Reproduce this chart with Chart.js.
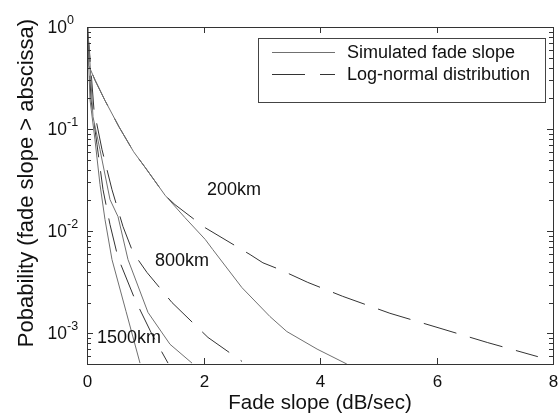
<!DOCTYPE html>
<html>
<head>
<meta charset="utf-8">
<script src="https://cdn.jsdelivr.net/npm/chart.js@4.4.1/dist/chart.umd.min.js"></script>
<style>
  html, body { margin: 0; padding: 0; background: #fff; }
</style>
</head>
<body>
<canvas id="fade-slope-chart" width="560" height="417"></canvas>
<script>
// values (x = fade slope in dB/sec, p = probability)
const sim200X = [0, 0.03, 0.14, 0.31, 0.55, 0.8, 1.0, 1.34, 1.68, 2.03, 2.16, 2.66, 3.14, 3.43, 3.95, 4.46];
const sim200P = [0.98, 0.42, 0.3, 0.19, 0.105, 0.06, 0.042, 0.0225, 0.0136, 0.0083, 0.0066, 0.0028, 0.00146, 0.00104, 0.0007, 0.0005];
const logn200X = [0, 0.03, 0.14, 0.31, 0.55, 0.8, 1.0, 1.34, 1.51, 2.03, 2.8, 3.02, 3.31, 3.79, 4.39, 5.2, 6.06, 6.88, 7.74];
const logn200P = [0.98, 0.42, 0.3, 0.19, 0.105, 0.06, 0.042, 0.0225, 0.0182, 0.0108, 0.0059, 0.0049, 0.00421, 0.00315, 0.0023, 0.00157, 0.00112, 0.00081, 0.00059];

const sim800X = [0, 0.034, 0.103, 0.223, 0.395, 0.532, 0.704, 1.047, 1.425, 1.803];
const sim800P = [0.98, 0.667, 0.132, 0.0628, 0.0204, 0.0139, 0.00527, 0.0016, 0.00078, 0.00051];
const logn800X = [0, 0.034, 0.12, 0.258, 0.429, 0.618, 0.79, 1.03, 1.459, 2.077, 2.661];
const logn800P = [0.98, 0.667, 0.154, 0.0628, 0.0255, 0.0111, 0.00618, 0.00394, 0.002, 0.00091, 0.00053];

const sim1500X = [0, 0.017, 0.052, 0.137, 0.223, 0.309, 0.429, 0.67, 0.91];
const sim1500P = [0.98, 0.667, 0.193, 0.0786, 0.0286, 0.013, 0.00527, 0.00164, 0.00051];
const logn1500X = [0, 0.017, 0.069, 0.172, 0.275, 0.395, 0.532, 0.824, 1.116, 1.391];
const logn1500P = [0.98, 0.746, 0.193, 0.0703, 0.0255, 0.0116, 0.00552, 0.00214, 0.000975, 0.00051];

const xTicks = [0, 2, 4, 6, 8];
const yDecades = [0, -1, -2, -3];
const curveLabels = ["200km", "800km", "1500km"];
const legendLabels = ["Simulated fade slope", "Log-normal distribution"];

const FONT = "Arial, 'Liberation Sans', Helvetica, sans-serif";
const SIM_COLOR = "#707070";
const LOGN_COLOR = "#333333";
const DASH = [34, 14];

const toPoints = (xs, ps) => xs.map((x, i) => ({ x: x, y: ps[i] }));

const simLine = (xs, ps) => ({
    data: toPoints(xs, ps),
    borderColor: SIM_COLOR,
    borderWidth: 1,
    pointRadius: 0,
    tension: 0,
});
const lognLine = (xs, ps) => ({
    data: toPoints(xs, ps),
    borderColor: LOGN_COLOR,
    borderWidth: 1,
    borderDash: DASH,
    pointRadius: 0,
    tension: 0,
});

// frame, inward ticks, tick labels, titles, legend and curve labels
const axesBox = {
    id: "axesBox",
    afterDatasetsDraw(chart) {
        const { ctx, chartArea: a, scales } = chart;
        const x = scales.x;
        const y = scales.y;
        const seg = (x1, y1, x2, y2) => {
            ctx.beginPath();
            ctx.moveTo(x1, y1);
            ctx.lineTo(x2, y2);
            ctx.stroke();
        };
        ctx.save();
        ctx.strokeStyle = "#333";
        ctx.lineWidth = 1;
        ctx.strokeRect(a.left + 0.5, a.top + 0.5, a.right - a.left, a.bottom - a.top);

        ctx.fillStyle = "#111";
        ctx.font = "17px " + FONT;
        ctx.textAlign = "center";
        ctx.textBaseline = "middle";
        xTicks.forEach((v) => {
            const px = Math.round(x.getPixelForValue(v)) + 0.5;
            seg(px, a.bottom, px, a.bottom - 6);
            seg(px, a.top, px, a.top + 6);
            ctx.fillText(String(v), px, a.bottom + 18);
        });

        // minor ticks on the log axis
        for (let d = -4; d < 0; d++) {
            for (let k = 2; k <= 9; k++) {
                const v = k * Math.pow(10, d);
                if (v < y.min || v > y.max) continue;
                const py = Math.round(y.getPixelForValue(v)) + 0.5;
                seg(a.left, py, a.left + 4, py);
                seg(a.right, py, a.right - 4, py);
            }
        }
        yDecades.forEach((e) => {
            const py = Math.round(y.getPixelForValue(Math.pow(10, e))) + 0.5;
            seg(a.left, py, a.left + 6, py);
            seg(a.right, py, a.right - 6, py);
            ctx.font = "17.5px " + FONT;
            ctx.textAlign = "right";
            ctx.textBaseline = "middle";
            ctx.fillText("10", a.left - 20, py + 1);
            ctx.font = "12.5px " + FONT;
            ctx.textAlign = "left";
            ctx.fillText(e === 0 ? "0" : "-" + Math.abs(e), a.left - 20, py - 7);
        });

        // axis titles
        ctx.font = "20.5px " + FONT;
        ctx.textAlign = "center";
        ctx.textBaseline = "alphabetic";
        ctx.fillText("Fade slope (dB/sec)", (a.left + a.right) / 2, 409);
        ctx.save();
        ctx.translate(33, 183);
        ctx.rotate(-Math.PI / 2);
        ctx.font = "22px " + FONT;
        ctx.fillText("Pobability (fade slope > abscissa)", 0, 0);
        ctx.restore();

        // curve labels
        ctx.font = "18px " + FONT;
        ctx.textAlign = "left";
        ctx.textBaseline = "middle";
        ctx.fillText(curveLabels[0], 207, 190);
        ctx.fillText(curveLabels[1], 155, 261);
        ctx.fillText(curveLabels[2], 97, 338);

        // legend
        ctx.fillStyle = "#fff";
        ctx.fillRect(258, 38, 287, 64);
        ctx.strokeStyle = "#444";
        ctx.strokeRect(258.5, 38.5, 287, 64);
        ctx.strokeStyle = SIM_COLOR;
        seg(272, 52.5, 335, 52.5);
        ctx.strokeStyle = LOGN_COLOR;
        ctx.setLineDash([33, 15]);
        seg(272, 74.5, 335, 74.5);
        ctx.setLineDash([]);
        ctx.fillStyle = "#111";
        ctx.font = "18px " + FONT;
        ctx.fillText(legendLabels[0], 347, 53);
        ctx.fillText(legendLabels[1], 347, 75);
        ctx.restore();
    },
};

const ctx = document.getElementById("fade-slope-chart");

new Chart(ctx, {
    type: "line",
    data: {
        datasets: [
            simLine(sim200X, sim200P),
            lognLine(logn200X, logn200P),
            simLine(sim800X, sim800P),
            lognLine(logn800X, logn800P),
            simLine(sim1500X, sim1500P),
            lognLine(logn1500X, logn1500P),
        ],
    },
    options: {
        responsive: false,
        animation: false,
        layout: { padding: { left: 87, top: 27, right: 7, bottom: 53 } },
        scales: {
            x: { type: "linear", min: 0, max: 8, display: false },
            y: { type: "logarithmic", min: 5e-4, max: 1, display: false },
        },
        plugins: {
            legend: { display: false },
            tooltip: { enabled: false },
        },
    },
    plugins: [axesBox],
});
</script>
</body>
</html>
